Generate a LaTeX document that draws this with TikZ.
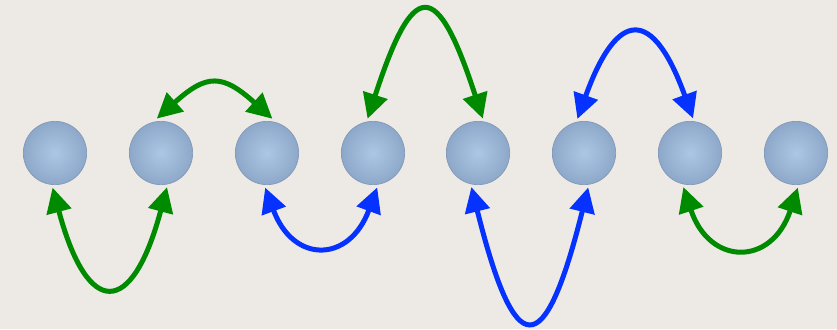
\documentclass[tikz,border=0pt]{standalone}
\usepackage{tikz}
\usetikzlibrary{arrows.meta}
\definecolor{paper}{RGB}{237,234,229}
\definecolor{ballin}{RGB}{172,199,228}
\definecolor{ballmid}{RGB}{138,164,198}
\definecolor{ballout}{RGB}{104,128,162}
\definecolor{ballrim}{RGB}{132,154,184}
\definecolor{hopgreen}{RGB}{0,138,0}
\definecolor{hopblue}{RGB}{5,50,255}
\pgfdeclareradialshading{ballshade}{\pgfpoint{0bp}{0bp}}{color(0bp)=(ballin); color(28bp)=(ballmid); color(50bp)=(ballout)}

\begin{document}
\begin{tikzpicture}[x=0.03cm,y=-0.03cm,>={Triangle[length=0.75cm,width=0.74cm]},
  ball/.style={circle,minimum size=1.9cm,inner sep=0pt,outer sep=0.09cm,shade,shading=ballshade,draw=ballrim,line width=0.6pt},
  hop/.style={line width=0.15cm,<->}]
  % paper
  \fill[paper] (0,0) rectangle (837,329);
  \useasboundingbox (0,0) rectangle (837,329);
  % the eight sites
  \foreach \i/\x in {1/55,2/161,3/267,4/373,5/478,6/584,7/690,8/796}
    \node[ball] (s\i) at (\x,153) {};
  % hops below the row
  \draw[hop,hopgreen] (s1.266) .. controls +(35,131) and +(-35,131) .. (s2.280);
  \draw[hop,hopblue] (s3.267) .. controls +(28,76) and +(-28,76) .. (s4.277);
  \draw[hop,hopblue] (s5.259) .. controls +(44,176) and +(-44,176) .. (s6.277);
  \draw[hop,hopgreen] (s7.259) .. controls +(26,79) and +(-26,79) .. (s8.273);
  % hops above the row
  \draw[hop,hopgreen] (s2.97) .. controls +(50,-45) and +(-50,-45) .. (s3.81);
  \draw[hop,hopgreen] (s4.99) .. controls +(46,-141) and +(-46,-141) .. (s5.82);
  \draw[hop,hopblue] (s6.101) .. controls +(40,-111) and +(-40,-111) .. (s7.85);
\end{tikzpicture}
\end{document}
